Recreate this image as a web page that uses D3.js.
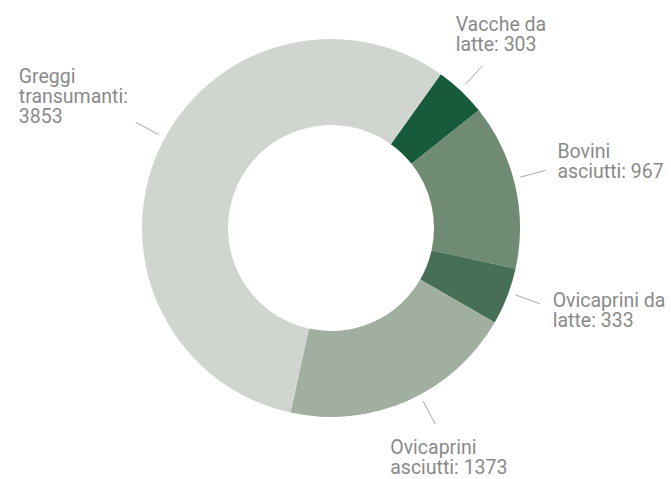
<!DOCTYPE html>
<html><head><meta charset="utf-8">
<script src="https://cdn.jsdelivr.net/npm/d3@7"></script>
<style>html,body{margin:0;padding:0;background:#fff;}</style>
</head><body>
<svg id="chart" width="671" height="479"></svg>
<script>
const categories = ["Vacche da latte", "Bovini asciutti", "Ovicaprini da latte", "Ovicaprini asciutti", "Greggi transumanti"];
const values = [303, 967, 333, 1373, 3853];
const colors = ["#175b3c", "#6f8b73", "#476f55", "#a0afa0", "#d0d5d0"];
// label text lines (as shown)
const labelLines = [
  ["Vacche da", "latte: 303"],
  ["Bovini", "asciutti: 967"],
  ["Ovicaprini da", "latte: 333"],
  ["Ovicaprini", "asciutti: 1373"],
  ["Greggi", "transumanti:", "3853"]
];
// layout: connector angle tweak (deg) and label block offset from connector end
const labelAngleAdjust = [-0.4, -2, -1.3, -4.2, 4.5];
const labelOffsets = [[-27,-42],[12,-19],[13,-4],[-45,23],[-117,-46]];

const cx = 331, cy = 228, rOuter = 189, rInner = 103;
const startDeg = 35.5;
const svg = d3.select("#chart");
const g = svg.append("g").attr("transform", `translate(${cx},${cy})`);

const data = categories.map((c,i)=>({name:c, value:values[i], i}));
const pie = d3.pie().value(d=>d.value).sort(null)
  .startAngle(startDeg*Math.PI/180).endAngle(startDeg*Math.PI/180 + 2*Math.PI);
const arcs = pie(data);
const arc = d3.arc().innerRadius(rInner).outerRadius(rOuter);
g.selectAll("path.slice").data(arcs).enter().append("path")
  .attr("class","slice").attr("d", arc).attr("fill", d=>colors[d.data.i]);

const r1 = rOuter + 7, r2 = rOuter + 33;
const pt = (a, r) => [r*Math.sin(a), -r*Math.cos(a)];
arcs.forEach(d=>{
  const a = (d.startAngle + d.endAngle)/2 + labelAngleAdjust[d.data.i]*Math.PI/180;
  const p1 = pt(a, r1), p2 = pt(a, r2);
  g.append("line").attr("x1",p1[0]).attr("y1",p1[1]).attr("x2",p2[0]).attr("y2",p2[1])
    .attr("stroke","#a8a8a8").attr("stroke-width",1);
  const off = labelOffsets[d.data.i];
  const t = g.append("text").attr("x", p2[0]+off[0]).attr("y", p2[1]+off[1])
    .attr("font-family","Roboto, 'DejaVu Sans', sans-serif").attr("font-size",19.5)
    .attr("fill","#8a8a8a").attr("dominant-baseline","central");
  labelLines[d.data.i].forEach((l,j)=>{
    t.append("tspan").attr("x", p2[0]+off[0]).attr("dy", j===0?0:20).text(l);
  });
});
</script>
</body></html>
